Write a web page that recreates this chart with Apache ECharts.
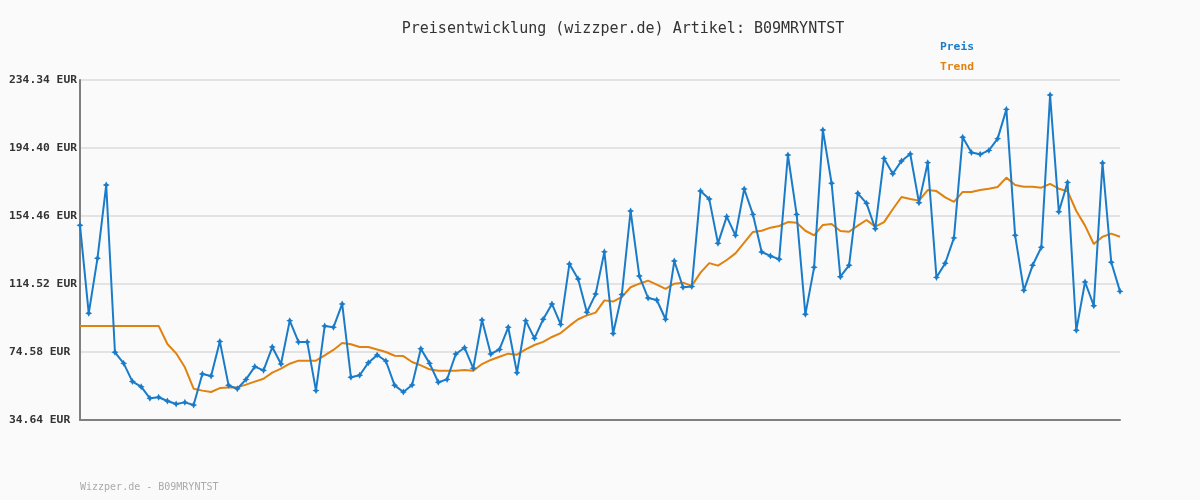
<!DOCTYPE html>
<html>
<head>
<meta charset="utf-8">
<script src="https://cdn.jsdelivr.net/npm/echarts@6/dist/echarts.min.js"></script>
<style>
html,body{margin:0;padding:0;background:#fafafa;}
#chart{width:1200px;height:500px;}
</style>
</head>
<body>
<div id="chart"></div>
<script>
const titleText = 'Preisentwicklung (wizzper.de) Artikel: B09MRYNTST';
const footerText = 'Wizzper.de - B09MRYNTST';
const seriesNames = ['Preis', 'Trend'];
const yTicks = [34.64, 74.58, 114.52, 154.46, 194.40, 234.34];

const preis = [
  149.0, 97.3, 129.6, 172.7, 74.4, 67.9, 57.2, 54.2, 47.4, 48.0,
  45.8, 44.0, 45.0, 43.5, 61.7, 60.5, 80.8, 55.0, 53.0, 58.5,
  66.0, 63.8, 77.5, 67.5, 93.0, 80.5, 80.5, 51.9, 89.9, 89.1,
  102.8, 59.7, 60.9, 68.3, 72.8, 69.3, 55.0, 51.1, 55.2, 76.5,
  67.9, 56.8, 58.5, 73.4, 77.1, 65.0, 93.4, 73.4, 76.1, 89.1,
  62.4, 93.0, 82.6, 93.8, 102.8, 90.8, 126.3, 117.4, 97.9, 108.6,
  133.4, 85.5, 108.4, 157.4, 119.2, 106.3, 105.1, 93.8, 128.0, 112.6,
  113.0, 169.1, 164.4, 138.4, 154.1, 143.1, 170.3, 155.4, 133.3, 131.0,
  129.1, 190.3, 155.4, 96.7, 124.3, 205.0, 173.7, 118.8, 125.5, 167.8,
  161.9, 147.0, 188.3, 179.3, 186.8, 190.9, 162.3, 185.8, 118.4, 126.7,
  141.6, 200.7, 191.7, 190.7, 193.0, 199.9, 217.1, 143.1, 110.8, 125.5,
  136.1, 225.5, 157.0, 174.2, 87.3, 115.7, 101.8, 185.6, 127.3, 110.2
];

const trend = [
  89.9, 89.9, 89.9, 89.9, 89.9, 89.9, 89.9, 89.9, 89.9, 89.9,
  79.3, 73.8, 65.6, 53.0, 51.9, 51.1, 53.4, 53.8, 53.8, 55.4,
  57.2, 58.9, 62.5, 64.8, 67.7, 69.5, 69.5, 69.5, 72.6, 75.8,
  79.9, 79.1, 77.5, 77.5, 76.0, 74.6, 72.4, 72.2, 68.7, 66.7,
  64.4, 63.6, 63.6, 63.6, 64.0, 63.6, 67.5, 69.9, 71.8, 73.6,
  73.0, 76.1, 78.7, 80.5, 83.4, 85.7, 89.9, 93.8, 96.1, 97.7,
  104.9, 104.2, 106.9, 112.6, 114.7, 116.5, 114.1, 111.6, 114.7, 115.3,
  113.4, 121.2, 126.8, 125.3, 128.6, 132.5, 138.8, 145.1, 145.8, 147.6,
  148.6, 150.9, 150.5, 145.8, 143.1, 149.2, 149.8, 145.6, 145.2, 148.8,
  152.1, 148.2, 150.9, 158.4, 165.6, 164.5, 163.5, 169.7, 169.1, 165.4,
  162.8, 168.6, 168.6, 169.7, 170.5, 171.5, 177.0, 172.7, 171.7, 171.7,
  171.1, 173.3, 170.5, 169.0, 157.4, 148.8, 138.0, 142.3, 144.1, 142.3
];

const categories = preis.map((_, i) => String(i + 1));

const blue = '#1a7cc9';
const orange = '#e0820f';
const mono = '"DejaVu Sans Mono", "Liberation Mono", monospace';

const chart = echarts.init(document.getElementById('chart'));
chart.setOption({
  backgroundColor: '#fafafa',
  animation: false,
  title: {
    text: titleText,
    left: 618, top: 17,
    textAlign: 'center',
    textStyle: { fontFamily: mono, fontSize: 15, fontWeight: 'normal', color: '#333' }
  },
  legend: {
    orient: 'vertical',
    left: 929, top: 37,
    itemWidth: 0, itemHeight: 0,
    itemGap: 9,
    selectedMode: false,
    textStyle: { fontFamily: mono, fontSize: 11.3, fontWeight: 'bold' },
    data: [
      { name: seriesNames[0], textStyle: { color: blue } },
      { name: seriesNames[1], textStyle: { color: orange } }
    ]
  },
  grid: { left: 80, right: 80, top: 80, bottom: 80 },
  xAxis: {
    type: 'category',
    data: categories,
    boundaryGap: false,
    axisLine: { lineStyle: { color: '#7f7f7f', width: 2 } },
    axisTick: { show: false },
    axisLabel: { show: false },
    splitLine: { show: false }
  },
  yAxis: {
    type: 'value',
    min: yTicks[0],
    max: yTicks[yTicks.length - 1],
    interval: yTicks[1] - yTicks[0],
    axisLine: { show: true, lineStyle: { color: '#7f7f7f', width: 2 } },
    axisTick: { show: false },
    axisLabel: {
      margin: 71,
      align: 'left',
      fontFamily: mono, fontSize: 11.3, fontWeight: 'bold', color: '#333',
      formatter: v => v.toFixed(2) + ' EUR'
    },
    splitLine: { lineStyle: { color: '#e3e3e3', width: 2 } }
  },
  graphic: [{
    type: 'text', left: 80, top: 482,
    style: { text: footerText, font: '10px ' + mono, fill: '#aaaaaa' }
  }],
  series: [
    {
      name: seriesNames[0], type: 'line', data: preis,
      symbol: 'path://M0,-1 L0.35,-0.35 L1,0 L0.35,0.35 L0,1 L-0.35,0.35 L-1,0 L-0.35,-0.35Z',
      symbolSize: 7, showSymbol: true, showAllSymbol: true,
      itemStyle: { color: blue },
      lineStyle: { color: blue, width: 2 },
      z: 3
    },
    {
      name: seriesNames[1], type: 'line', data: trend,
      symbol: 'none',
      itemStyle: { color: orange },
      lineStyle: { color: orange, width: 2 },
      z: 2
    }
  ]
});
</script>
</body>
</html>
